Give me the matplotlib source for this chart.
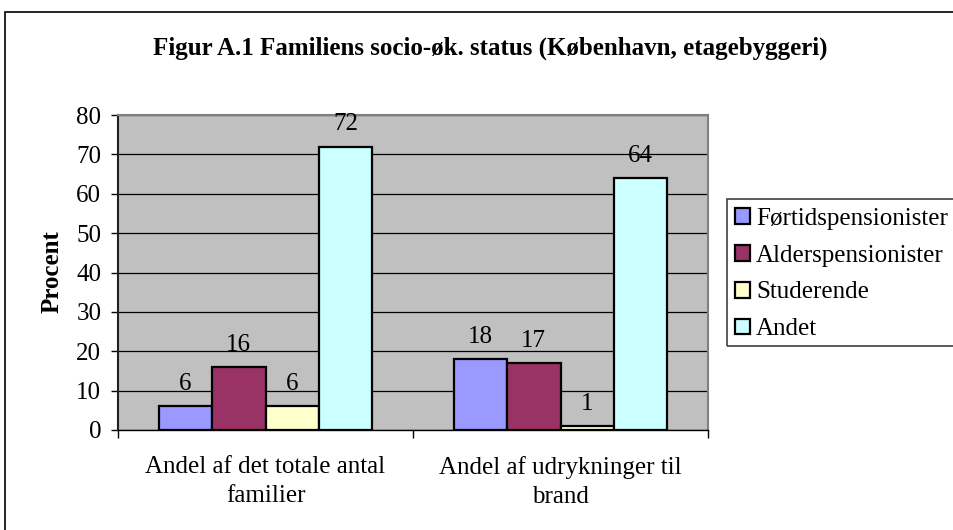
import matplotlib
matplotlib.use("Agg")
import matplotlib.pyplot as plt
import numpy as np
from matplotlib.patches import Rectangle

categories = ["Andel af det totale antal\nfamilier", "Andel af udrykninger til\nbrand"]
series_names = ["Førtidspensionister", "Alderspensionister", "Studerende", "Andet"]
values = {
    "Førtidspensionister": [6, 18],
    "Alderspensionister": [16, 17],
    "Studerende": [6, 1],
    "Andet": [72, 64],
}
colors = ["#9999FF", "#993366", "#FFFFCC", "#CCFFFF"]
yticks = [0, 10, 20, 30, 40, 50, 60, 70, 80]

plt.rcParams['font.family'] = ['Liberation Serif', 'DejaVu Serif']
FS = 18

W, H = 954, 530
fig = plt.figure(figsize=(W/100, H/100), dpi=100)
# outer chart border (extends past right and bottom edges)
fig.patches.append(Rectangle((5/W, -0.1), 1.2, 1.1 - 12/H, transform=fig.transFigure,
                             fill=False, edgecolor='black', linewidth=1.2))
# legend frame
fig.patches.append(Rectangle((727/W, 1-346/H), 0.5, (346-199)/H, transform=fig.transFigure,
                             fill=False, edgecolor='#404040', linewidth=1.2, zorder=5))

ax = fig.add_axes([118/W, 1-430/H, 590/W, 315/H])
ax.set_facecolor('#C0C0C0')

bw = 0.181
x = np.arange(len(categories))
n = len(series_names)
for i, (name, c) in enumerate(zip(series_names, colors)):
    offs = (i - (n-1)/2) * bw
    vals = values[name]
    bars = ax.bar(x + offs, vals, width=bw, color=c, edgecolor='black', linewidth=1.6, label=name, zorder=3)
    for b, v in zip(bars, vals):
        ax.annotate(f"{v}", (b.get_x() + b.get_width()/2, v), xytext=(0, 8), textcoords='offset points',
                    ha='center', va='bottom', fontsize=FS, zorder=4)

ax.set_xlim(-0.5, 1.5)
ax.set_ylim(0, 80)
ax.set_yticks(yticks)
ax.set_yticklabels([str(t) for t in yticks], fontsize=FS)
ax.yaxis.grid(True, color='black', linewidth=0.9, zorder=1)
ax.set_axisbelow(True)
ax.tick_params(axis='y', direction='out', length=5, width=1, pad=7)

ax.set_xticks([-0.5, 0.5, 1.5])
ax.set_xticklabels([])
ax.tick_params(axis='x', direction='out', length=6, width=1)
ax.set_xticks(x, minor=True)
ax.set_xticklabels(categories, minor=True, fontsize=FS, linespacing=1.38)
ax.tick_params(axis='x', which='minor', length=0, pad=19)

for s in ['top', 'right']:
    ax.spines[s].set_color('#808080')
    ax.spines[s].set_linewidth(1.5)
ax.spines['left'].set_color('#202020')
ax.spines['bottom'].set_color('black')
ax.spines['left'].set_linewidth(1.5)
ax.spines['bottom'].set_linewidth(1)

ax.set_ylabel("Procent", fontsize=FS, fontweight='bold', labelpad=10)
ax.yaxis.set_label_coords(64/W, 1-272/H, transform=fig.transFigure)

fig.text(490/W, 1-48/H, "Figur A.1 Familiens socio-øk. status (København, etagebyggeri)",
         ha='center', va='center', fontsize=FS, fontweight='bold')

leg = fig.legend(loc='upper left', bbox_to_anchor=(735/W, 1-208/H), frameon=False,
                 fontsize=FS, handlelength=0.6, handleheight=0.6,
                 handletextpad=0.25, borderpad=0, labelspacing=0.59, borderaxespad=0)
for h in leg.legend_handles:
    h.set_linewidth(1.6)

fig.savefig("out.png", dpi=100)
